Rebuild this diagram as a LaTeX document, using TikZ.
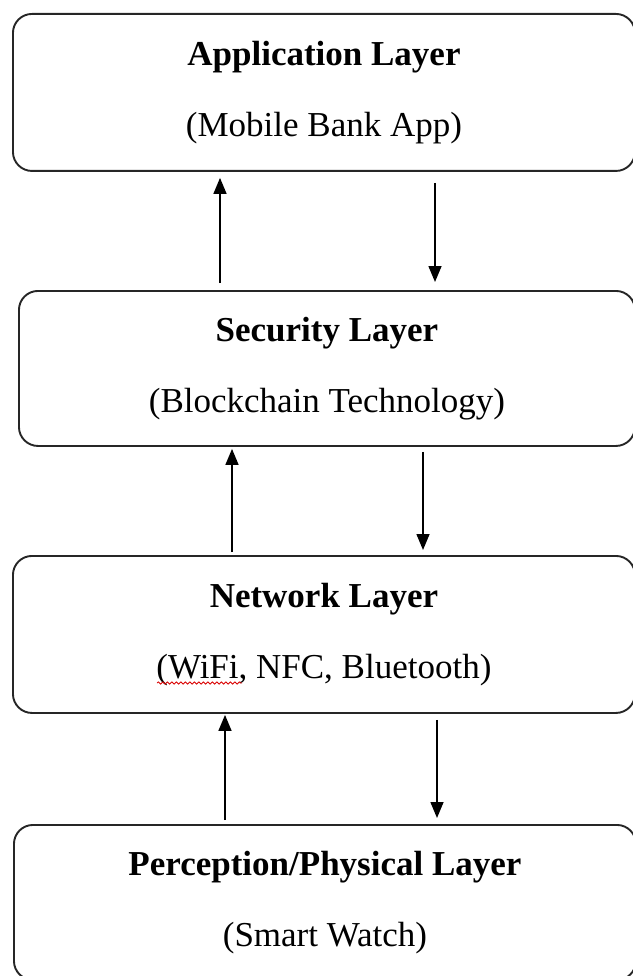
\documentclass[tikz,border=0pt]{standalone}
\usepackage{fontspec}
\setmainfont{Liberation Serif}
\usetikzlibrary{arrows.meta,decorations.pathmorphing}
\begin{document}
\begin{tikzpicture}[x=1pt,y=-1pt,
  layer/.style={draw=black!85, line width=1.9pt, rounded corners=19pt, anchor=north west,
    inner sep=0pt, align=center, font=\fontsize{35}{71}\selectfont, minimum width=622pt},
  flow/.style={draw=black, line width=1.5pt, -{Triangle[length=16pt,width=13pt]}},
  spell/.style={draw=red!85!black, line width=0.8pt, decorate,
    decoration={snake, amplitude=1.1pt, segment length=4.5pt}}]
\useasboundingbox (0,0) rectangle (632,976);

\node[layer, minimum height=157pt] (app) at (12,13)
  {\textbf{Application Layer}\\(Mobile Bank App)};
\node[layer, minimum width=616pt, minimum height=155pt] (sec) at (18,290)
  {\textbf{Security Layer}\\(Blockchain Technology)};
\node[layer, minimum height=157pt] (net) at (12,555)
  {\textbf{Network Layer}\\(WiFi, NFC, Bluetooth)};
\node[layer, minimum height=155pt] (per) at (13,824)
  {\textbf{Perception/Physical Layer}\\(Smart Watch)};

\coordinate (c1) at (220,0);
\coordinate (c2) at (435,0);
\coordinate (c3) at (232,0);
\coordinate (c4) at (423,0);
\coordinate (c5) at (225,0);
\coordinate (c6) at (437,0);

\draw[flow, shorten <=7pt, shorten >=6pt] (c1 |- sec.north) -- (c1 |- app.south);
\draw[flow, shorten <=11pt, shorten >=8pt] (c2 |- app.south) -- (c2 |- sec.north);
\draw[flow, shorten <=3pt, shorten >=2pt] (c3 |- net.north) -- (c3 |- sec.south);
\draw[flow, shorten <=5pt, shorten >=5pt] (c4 |- sec.south) -- (c4 |- net.north);
\draw[flow, shorten <=4pt, shorten >=1pt] (c5 |- per.north) -- (c5 |- net.south);
\draw[flow, shorten <=6pt, shorten >=6pt] (c6 |- net.south) -- (c6 |- per.north);

\coordinate (w1) at (157,683);
\coordinate (w2) at (242,683);
\draw[spell] (w1) -- (w2);
\end{tikzpicture}
\end{document}
